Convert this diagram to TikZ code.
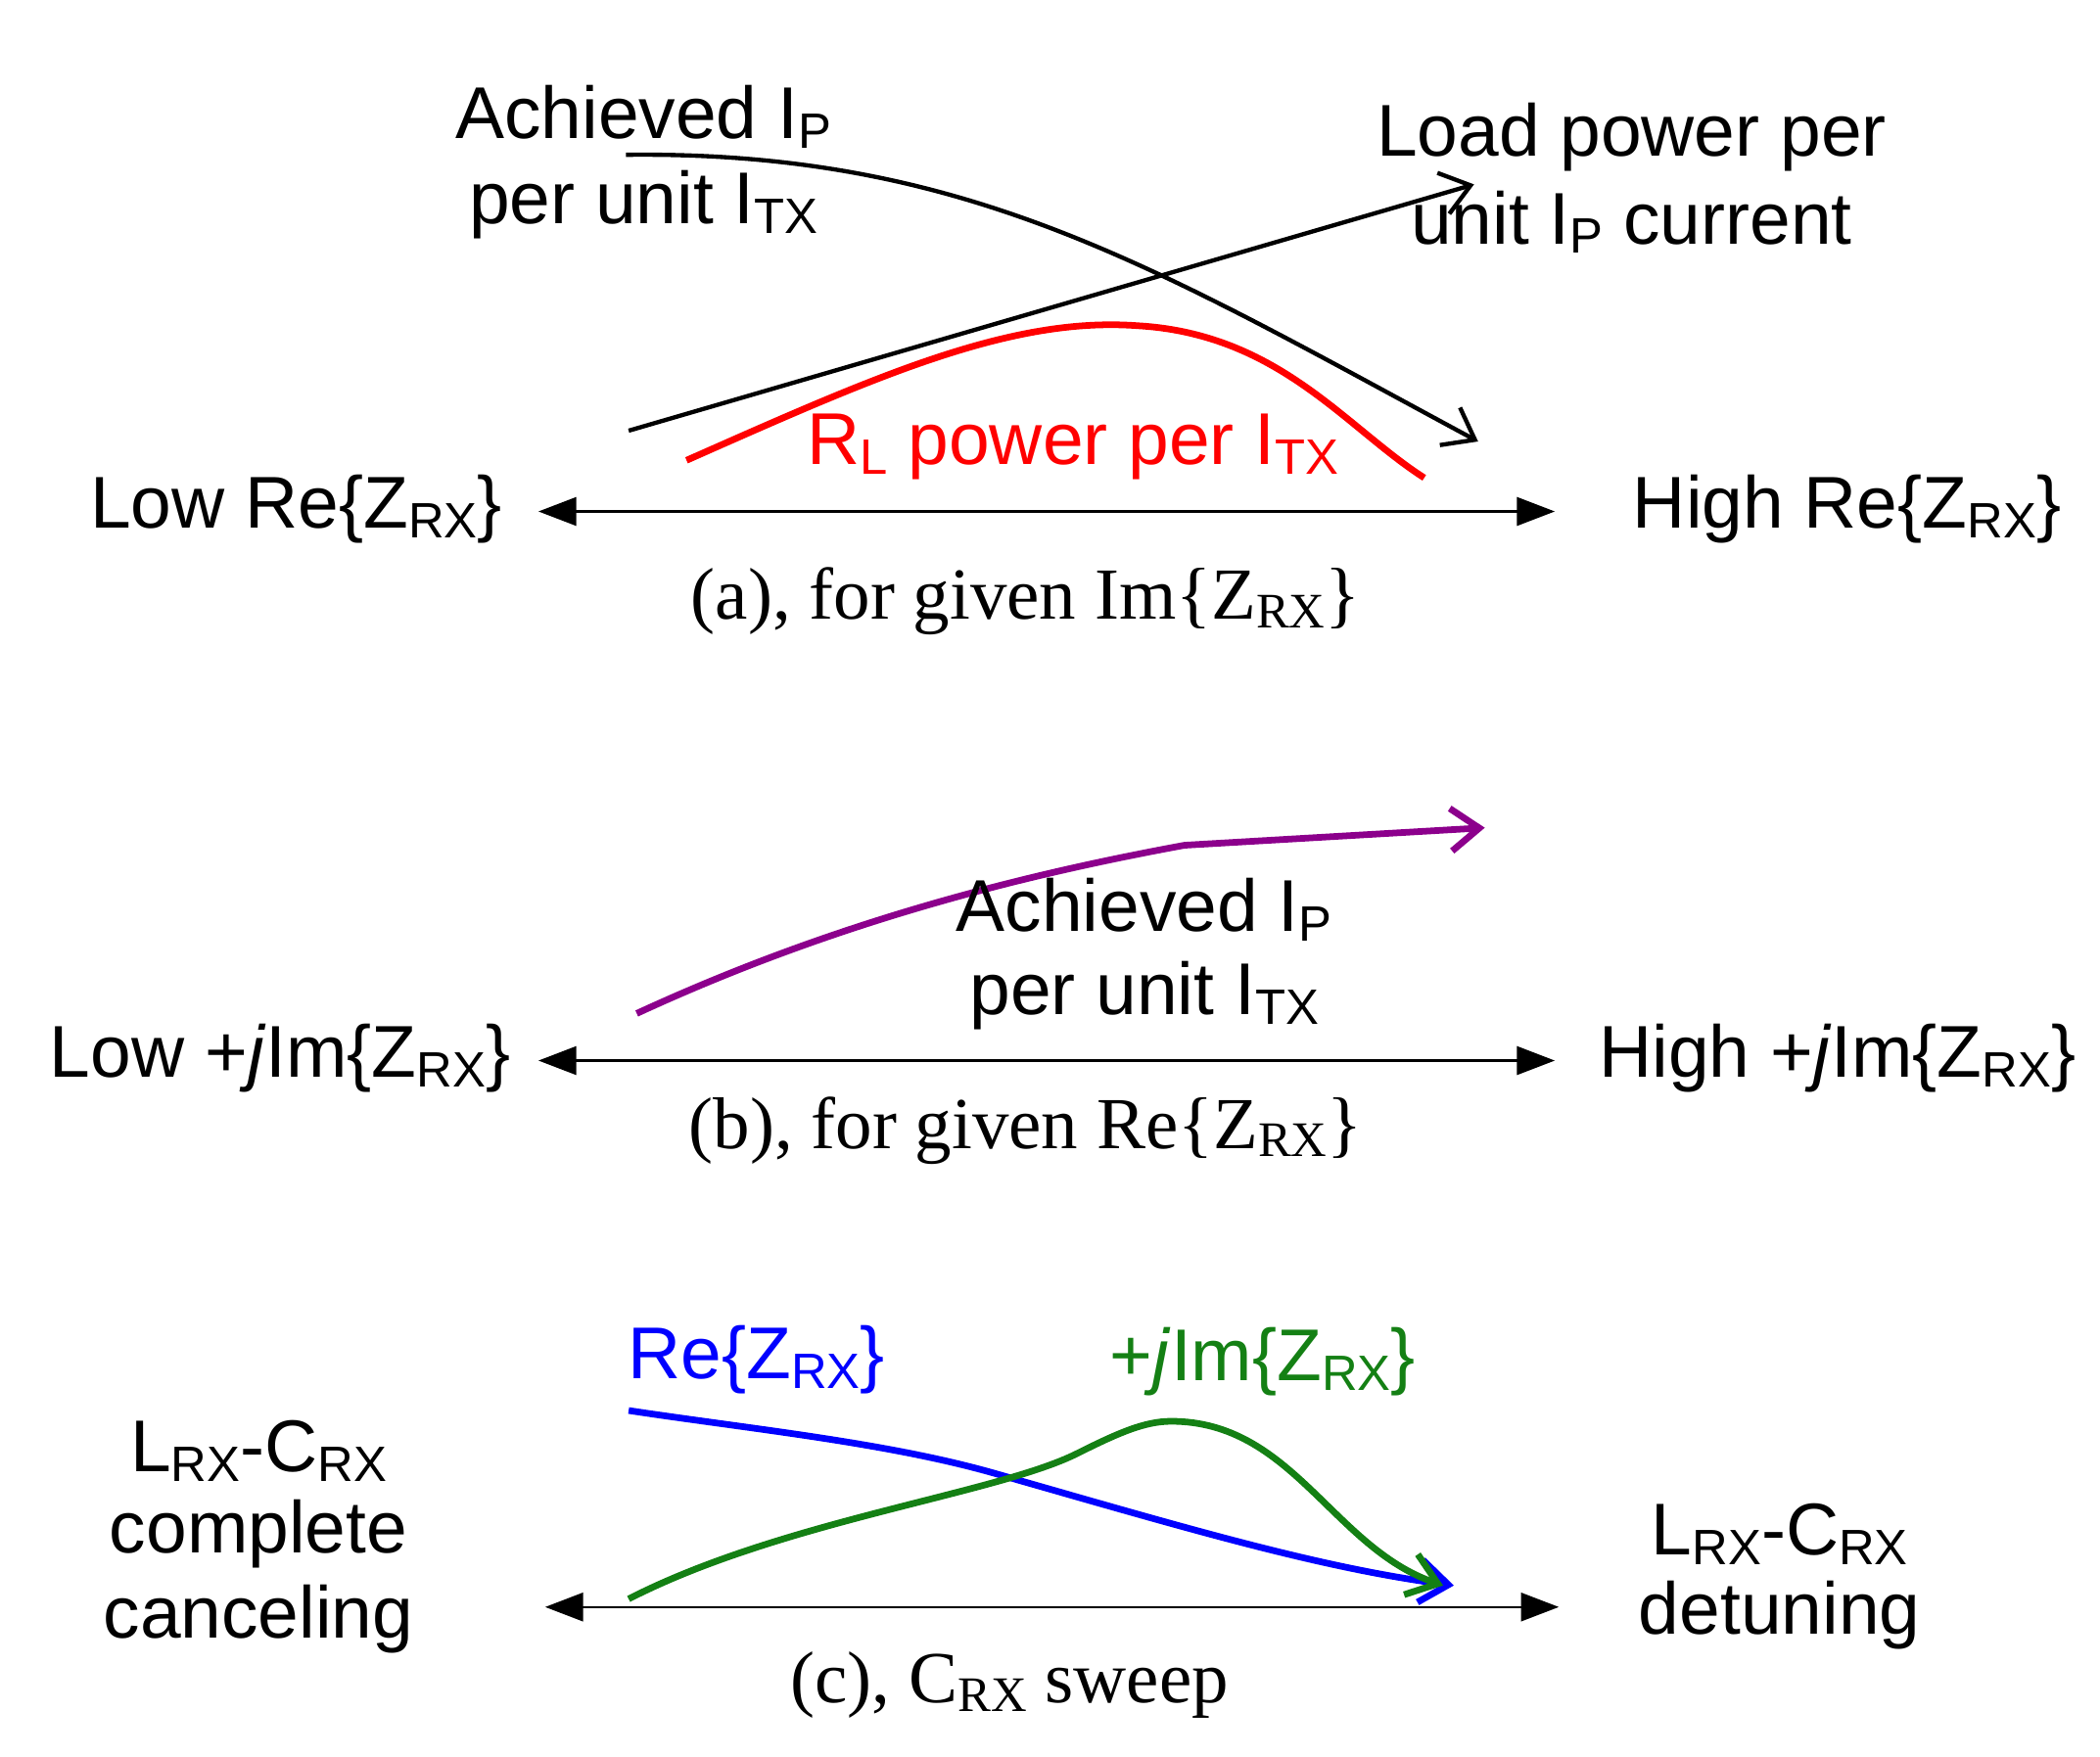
\documentclass[tikz,border=0pt]{standalone}
\usepackage{fontspec}
\setmainfont{Liberation Sans}
\newfontfamily\serifF{Liberation Serif}
\usetikzlibrary{arrows.meta}
\definecolor{purp}{RGB}{140,0,140}
\definecolor{grn}{RGB}{20,128,20}
\newcommand{\low}[1]{\raisebox{-0.25ex}{\fontsize{10.5}{12}\selectfont #1}}
\begin{document}
\begin{tikzpicture}[x=0.01cm,y=-0.01cm,
  lab/.style={font=\fontsize{15.5}{18}\selectfont, inner sep=0pt, align=center},
  captxt/.style={font=\serifF\fontsize{15.5}{18}\selectfont, inner sep=0pt},
  axis/.style={line width=0.5pt, {Triangle[length=8pt,width=6pt]}-{Triangle[length=8pt,width=6pt]}},
  curve/.style={line width=0.9pt,-{Straight Barb[length=6pt,width=9pt]}},
  thick curve/.style={line width=1.4pt}]
\useasboundingbox (0,0) rectangle (1560,1305);
% (a)
\coordinate (a1) at (400,380); \coordinate (a2) at (1155,380);
\draw[axis] (a1) -- (a2);
\node[lab] (aL) at (220,378) {Low Re\{Z\low{RX}\}};
\node[lab] (aH) at (1372,378) {High Re\{Z\low{RX}\}};
\node[captxt] (aC) at (762,447) {(a), for given Im\{Z\low{RX}\}};
\coordinate (b1s) at (465,115); \coordinate (b1e) at (1098,328);
\draw[curve] (b1s) .. controls (720,112) and (860,200) .. (b1e);
\coordinate (b2s) at (467,320); \coordinate (b2e) at (1095,137);
\draw[curve] (b2s) -- (b2e);
\coordinate (r1) at (510,342); \coordinate (r2) at (845,242); \coordinate (r3) at (1058,355);
\draw[thick curve,red] (r1) .. controls (650,280) and (750,235) .. (r2) .. controls (950,248) and (1000,318) .. (r3);
\node[lab] (t1) at (478,87) {Achieved I\low{P}};
\node[lab] (t2) at (478,152) {per unit I\low{TX}};
\node[lab] (t3) at (1212,102) {Load power per};
\node[lab] (t4) at (1212,165) {unit I\low{P} current};
\node[lab,red] (t5) at (797,332) {R\low{L} power per I\low{TX}};
% (b)
\coordinate (c1) at (400,788); \coordinate (c2) at (1155,788);
\draw[axis] (c1) -- (c2);
\node[lab] (bL) at (208,786) {Low +\textit{j}Im\{Z\low{RX}\}};
\node[lab] (bH) at (1365,786) {High +\textit{j}Im\{Z\low{RX}\}};
\node[captxt] (bC) at (762,840) {(b), for given Re\{Z\low{RX}\}};
\coordinate (p1) at (473,753); \coordinate (p2) at (880,628); \coordinate (p3) at (1103,615);
\draw[curve,line width=1.4pt,purp] (p1) .. controls (620,685) and (760,650) .. (p2) -- (p3);
\node[lab] (t6) at (850,676) {Achieved I\low{P}};
\node[lab] (t7) at (850,740) {per unit I\low{TX}};
% (c)
\coordinate (d1) at (405,1194); \coordinate (d2) at (1158,1194);
\draw[axis] (d1) -- (d2);
\node[lab] (cL1) at (192,1078) {L\low{RX}-C\low{RX}};
\node[lab] (cL2) at (192,1140) {complete};
\node[lab] (cL3) at (192,1203) {canceling};
\node[lab] (cR1) at (1322,1140) {L\low{RX}-C\low{RX}};
\node[lab] (cR2) at (1322,1200) {detuning};
\node[captxt] (cC) at (750,1252) {(c), C\low{RX} sweep};
\coordinate (bl1) at (467,1048); \coordinate (bl2) at (1080,1178);
\draw[curve,line width=1.4pt,blue] (bl1) .. controls (560,1062) and (660,1072) .. (740,1095) .. controls (880,1135) and (980,1165) .. (bl2);
\coordinate (g1) at (467,1188); \coordinate (g2) at (870,1056); \coordinate (g3) at (1072,1178);
\draw[curve,line width=1.4pt,grn] (g1) .. controls (580,1130) and (740,1110) .. (800,1080) .. controls (830,1065) and (850,1056) .. (g2) .. controls (960,1056) and (990,1150) .. (g3);
\node[lab,blue] (t8) at (562,1010) {Re\{Z\low{RX}\}};
\node[lab,grn] (t9) at (938,1012) {+\textit{j}Im\{Z\low{RX}\}};
\end{tikzpicture}
\end{document}
